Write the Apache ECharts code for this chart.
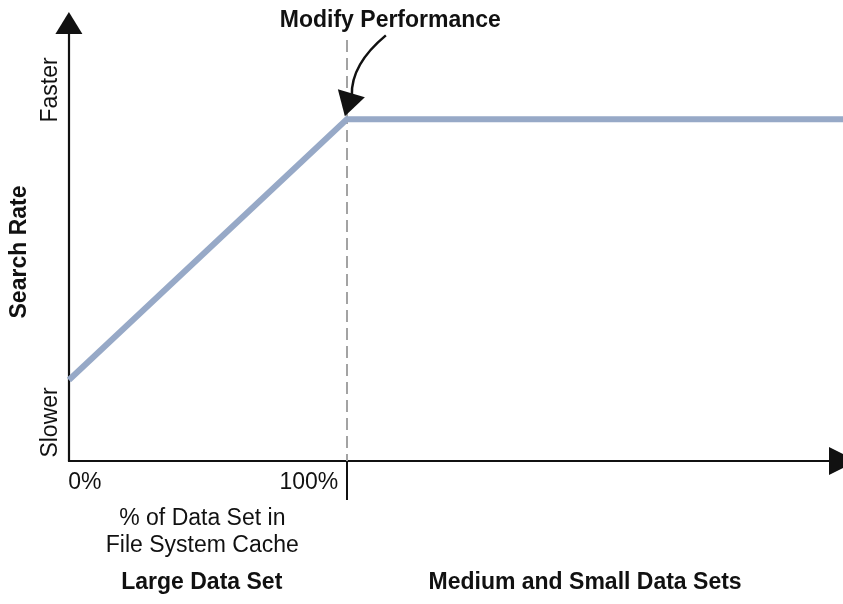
<!DOCTYPE html>
<html>
<head>
<meta charset="utf-8">
<script src="https://cdn.jsdelivr.net/npm/echarts@6/dist/echarts.min.js"></script>
<style>
html,body{margin:0;padding:0;background:#fff;}
#main{width:843px;height:604px;}
</style>
</head>
<body>
<div id="main"></div>
<script>
// ---- data ----
const curveX = [0, 100, 278.5];
const curveY = [18.5, 78, 78];
const xMax = 278.5;
const xTickValues = [0, 100];
const xTickLabels = ['0%', '100%'];
const cacheLabelValue = [48];
const cacheLabelText = ['% of Data Set in\nFile System Cache'];
const regionValues = [47.8, 185.7];
const regionLabels = ['Large Data Set', 'Medium and Small Data Sets'];
const yLabelValues = [8.8, 84.7];
const yLabelTexts = ['Slower', 'Faster'];
const yAxisTitle = 'Search Rate';
const markerX = 100;
const markerTop = 96.1;
const annotationText = 'Modify Performance';

const FONT = "'Liberation Sans', Arial, Helvetica, sans-serif";
const chart = echarts.init(document.getElementById('main'));

const lineData = curveX.map((x, i) => [x, curveY[i]]);

chart.setOption({
  animation: false,
  backgroundColor: '#ffffff',
  grid: { left: 66, right: 0, top: 23, bottom: 143, containLabel: false },
  xAxis: [
    {
      type: 'value', min: 0, max: xMax, position: 'bottom',
      axisLine: { onZero: false, symbol: ['none', 'triangle'], symbolSize: [28, 28],
        lineStyle: { color: '#111', width: 2.2 } },
      axisTick: { show: true, customValues: [markerX], inside: false, length: 39,
        lineStyle: { color: '#111', width: 2 } },
      splitLine: { show: false },
      axisLabel: {
        customValues: xTickValues, margin: 10,
        fontFamily: FONT, fontSize: 23, color: '#111',
        formatter: function (v) {
          const i = xTickValues.indexOf(v);
          return i === 0 ? '{a|' + xTickLabels[i] + '}' : '{b|' + xTickLabels[i] + '}';
        },
        rich: {
          a: { fontFamily: FONT, fontSize: 23, color: '#111', padding: [0, 0, 0, 32] },
          b: { fontFamily: FONT, fontSize: 23, color: '#111', padding: [0, 76, 0, 0] }
        }
      }
    },
    {
      type: 'value', min: 0, max: xMax, position: 'bottom',
      axisLine: { show: false, onZero: false }, axisTick: { show: false }, splitLine: { show: false },
      axisLabel: {
        customValues: cacheLabelValue, margin: 44,
        fontFamily: FONT, fontSize: 23, lineHeight: 27, color: '#111', align: 'center',
        formatter: function (v) { return cacheLabelText[cacheLabelValue.indexOf(v)]; }
      }
    },
    {
      type: 'value', min: 0, max: xMax, position: 'bottom',
      axisLine: { show: false, onZero: false }, axisTick: { show: false }, splitLine: { show: false },
      axisLabel: {
        customValues: regionValues, margin: 110,
        fontFamily: FONT, fontSize: 23, fontWeight: 'bold', color: '#111',
        formatter: function (v) { return regionLabels[regionValues.indexOf(v)]; }
      }
    }
  ],
  yAxis: {
    type: 'value', min: 0, max: 100,
    name: yAxisTitle, nameLocation: 'middle', nameRotate: 90, nameGap: 36,
    nameTextStyle: { fontFamily: FONT, fontSize: 23, fontWeight: 'bold', color: '#111', padding: [0, 20, 0, 0] },
    axisLine: { onZero: false, symbol: ['none', 'triangle'], symbolSize: [27, 22],
      lineStyle: { color: '#111', width: 2.2 } },
    axisTick: { show: false },
    splitLine: { show: false },
    axisLabel: {
      customValues: yLabelValues, rotate: 90, margin: 7,
      fontFamily: FONT, fontSize: 23, color: '#111',
      formatter: function (v) { return yLabelTexts[yLabelValues.indexOf(v)]; }
    }
  },
  series: [{
    type: 'line',
    data: lineData,
    symbol: 'none',
    lineStyle: { color: '#97a9c7', width: 6, cap: 'butt', join: 'miter' },
    z: 3,
    markLine: {
      silent: true, symbol: ['none', 'none'], label: { show: false },
      lineStyle: { color: '#a3a3a3', width: 2, type: [12, 6] },
      z: 2,
      data: [[{ coord: [markerX, markerTop] }, { coord: [markerX, 0] }]]
    }
  }]
});

// annotation placed relative to the corner point computed through the chart's scales
const p = chart.convertToPixel({ xAxisIndex: 0, yAxisIndex: 0 }, [curveX[1], curveY[1]]);
const cx = p[0], cy = p[1];
chart.setOption({
  graphic: [
    {
      type: 'text', z: 10,
      style: {
        x: cx + 43.5, y: cy - 98.5, text: annotationText,
        fontFamily: FONT, fontSize: 23, fontWeight: 'bold', fill: '#111',
        align: 'center', verticalAlign: 'middle'
      }
    },
    {
      type: 'bezierCurve', z: 10,
      shape: { x1: cx + 39, y1: cy - 84, cpx1: cx + 4, cpy1: cy - 55, x2: cx + 5, y2: cy - 24 },
      style: { stroke: '#111', lineWidth: 2.5, fill: null }
    },
    {
      type: 'polygon', z: 10,
      shape: { points: [[cx - 2, cy - 3], [cx - 9, cy - 30], [cx + 18, cy - 22]] },
      style: { fill: '#111' }
    }
  ]
});
</script>
</body>
</html>
